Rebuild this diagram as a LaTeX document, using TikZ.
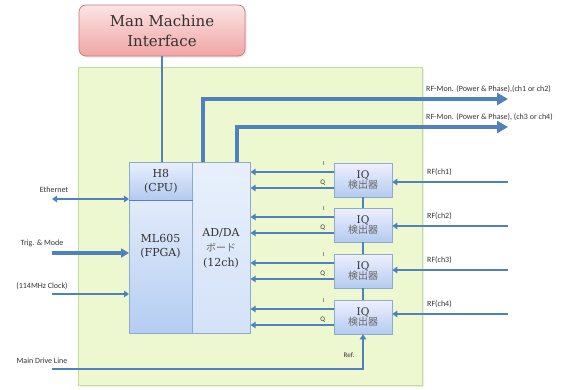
\documentclass[tikz,border=0pt]{standalone}
\usepackage{fontspec}
\setmainfont{DejaVu Serif}
\newfontfamily\lab{Carlito}
\newfontfamily\jp{Noto Sans CJK JP}
\usetikzlibrary{arrows.meta,calc,shadows}
\definecolor{ln}{RGB}{79,129,189}
\definecolor{panelfill}{RGB}{238,248,208}
\definecolor{paneldraw}{RGB}{190,222,150}
\definecolor{boxdraw}{RGB}{140,170,210}
\tikzset{
  conn/.style={draw=ln, line width=2pt, -{Triangle[length=5pt,width=6.5pt]}},
  thickconn/.style={draw=ln, line width=3.2pt, -{Triangle[length=11pt,width=12pt]}},
  plain/.style={draw=ln, line width=2pt},
  lbl/.style={font=\lab\fontsize{8}{9}\selectfont, text=black!80, inner sep=0pt},
  bluebox/.style={draw=boxdraw, line width=0.6pt, inner sep=0pt},
  iqbox/.style={bluebox, minimum width=58pt, minimum height=34pt, top color=blue!6!white, bottom color={rgb,255:red,178;green,203;blue,240}, align=center, font=\fontsize{10.5}{12}\selectfont, text=black!80, drop shadow={opacity=0.2, shadow xshift=1pt, shadow yshift=-1pt}},
}
\begin{document}
\begin{tikzpicture}[x=1pt,y=-1pt]
\useasboundingbox (0,0) rectangle (579,389);
% panel
\node[draw=paneldraw, fill=panelfill, line width=0.8pt, minimum width=344pt, minimum height=318pt, inner sep=0pt, anchor=north west, drop shadow={opacity=0.15, shadow xshift=1.5pt, shadow yshift=-1.5pt}] (panel) at (78,67) {};
% MMI
\node[draw={rgb,255:red,205;green,120;blue,120}, line width=0.7pt, rounded corners=7pt, minimum width=166pt, minimum height=51pt, inner sep=0pt, top color={rgb,255:red,252;green,228;blue,228}, bottom color={rgb,255:red,240;green,165;blue,165}, align=center, font=\fontsize{15}{20}\selectfont, text=black!80, drop shadow={opacity=0.2, shadow xshift=1.5pt, shadow yshift=-1.5pt}] (mmi) at (162,30.5) {Man Machine\\Interface};
% main blocks
\node[bluebox, minimum width=58pt, minimum height=171pt, anchor=north west, top color={rgb,255:red,232;green,240;blue,252}, bottom color={rgb,255:red,212;green,226;blue,248}] (adda) at (192,162) {};
\node[bluebox, minimum width=63pt, minimum height=133pt, anchor=north west, top color={rgb,255:red,225;green,235;blue,250}, bottom color={rgb,255:red,180;green,205;blue,242}] (ml) at (129,200) {};
\node[bluebox, minimum width=63pt, minimum height=38pt, anchor=north west, top color={rgb,255:red,232;green,240;blue,252}, bottom color={rgb,255:red,178;green,202;blue,240}] (h8) at (129,162) {};
\node[align=center, font=\fontsize{11}{14}\selectfont, text=black!80] (h8t) at (h8.center) {H8\\(CPU)};
\node[align=center, font=\fontsize{11}{14}\selectfont, text=black!80] (mlt) at (160.5,246) {ML605\\(FPGA)};
\node[align=center, font=\fontsize{11}{15}\selectfont, text=black!80] (addat) at (221,248) {AD/DA\\{\jp\fontsize{10}{12}\selectfont\color{black!60}ボード}\\(12ch)};
% IQ detectors
\foreach \i/\y in {1/180,2/225,3/271,4/317}{
  \node[iqbox] (iq\i) at (363,\y) {IQ\\[-2pt]{\jp\fontsize{10}{12}\selectfont\color{black!60}検出器}};
}
% vertical links
\draw[plain, line width=1.6pt] (iq1.south) -- (iq2.north);
\draw[plain, line width=1.6pt] (iq2.south) -- (iq3.north);
\draw[plain, line width=1.6pt] (iq3.south) -- (iq4.north);
% I/Q arrows
\foreach \i in {1,2,3,4}{
  \coordinate (ia\i) at ($(iq\i.west)+(0,-8)$);
  \coordinate (qa\i) at ($(iq\i.west)+(0,8)$);
  \draw[conn] (ia\i) -- (ia\i -| adda.east);
  \draw[conn] (qa\i) -- (qa\i -| adda.east);
  \node[lbl, font=\lab\fontsize{6}{7}\selectfont] (il\i) at ($(iq\i.west)+(-10,-16)$) {I};
  \node[lbl, font=\lab\fontsize{7}{8}\selectfont] (ql\i) at ($(iq\i.west)+(-11,3)$) {Q};
}
% RF inputs
\foreach \i/\y in {1/182,2/226,3/270,4/314}{
  \coordinate (rf\i) at (508,\y);
  \draw[conn] (rf\i) -- (rf\i -| iq\i.east);
  \node[lbl, anchor=west] (rfl\i) at (427,\y-10) {RF(ch\i)};
}
% RF monitor outputs
\coordinate (mon1) at (508,99);
\coordinate (mon2) at (508,127);
\coordinate (mons1) at ($(adda.north west)+(11,0)$);
\coordinate (mons2) at ($(adda.north west)+(45,0)$);
\draw[thickconn] (mons1) |- (mon1);
\draw[thickconn] (mons2) |- (mon2);
\node[lbl, anchor=west] (monl1) at (426,89) {RF-Mon. (Power \& Phase),(ch1 or ch2)};
\node[lbl, anchor=west] (monl2) at (426,117) {RF-Mon. (Power \& Phase), (ch3 or ch4)};
% MMI link
\draw[plain] (mmi.south) -- (mmi.south |- h8.north);
% H8 / ML605 boundary
\draw[draw=ln, line width=1.2pt] (h8.south west) -- (h8.south east);
% left inputs
\coordinate (eth) at (52,199);
\coordinate (trig) at (52,253);
\coordinate (clk) at (52,294);
\coordinate (md) at (52,369);
\draw[draw=ln, line width=2pt, {Triangle[length=5pt,width=6.5pt]}-{Triangle[length=5pt,width=6.5pt]}] (eth) -- (eth -| h8.west);
\draw[draw=ln, line width=3.2pt, -{Triangle[length=8pt,width=9pt]}] (trig) -- (trig -| ml.west);
\draw[conn] (clk) -- (clk -| ml.west);
\draw[conn] (md) -| (iq4.south);
\node[lbl] (ethl) at (54,190) {Ethernet};
\node[lbl] (trigl) at (42,243) {Trig. \& Mode};
\node[lbl] (clkl) at (42,286) {(114MHz Clock)};
\node[lbl] (mdl) at (42,361) {Main Drive Line};
\node[lbl, font=\lab\fontsize{7}{8}\selectfont] (refl) at (349,355) {Ref.};
\end{tikzpicture}
\end{document}
